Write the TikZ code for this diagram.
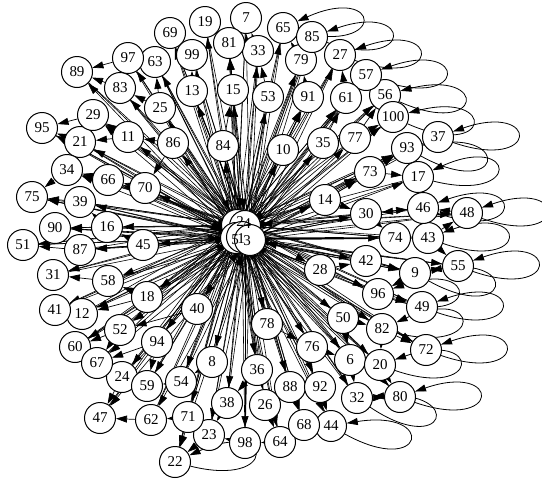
\documentclass[tikz,border=0pt]{standalone}
\usepackage{fontspec}
\setmainfont{Liberation Serif}
\usetikzlibrary{arrows.meta,backgrounds}

\tikzset{
  vtx/.style={circle, draw, fill=white, line width=1pt, minimum size=31pt, inner sep=0pt, font=\fontsize{15}{15}\selectfont},
  vlabel/.style={inner sep=0pt, font=\fontsize{15}{15}\selectfont},
  hub/.style={line width=0.6pt, -{Triangle[length=11pt,width=7pt]}},
  plainhub/.style={line width=0.6pt},
  link/.style={line width=0.7pt, -{Triangle[length=11pt,width=7pt]}},
  selfloop/.style={line width=0.8pt, -{Triangle[length=11pt,width=7pt]}}
}

\begin{document}
\begin{tikzpicture}[x=1pt,y=1pt]

\useasboundingbox (0,0) rectangle (542,-480);

% Outer vertices
\foreach \n/\x/\y in {
6/350/360, 7/246/18, 8/212/362, 9/415/273, 10/283/150, 11/128/137, 12/82/314,
13/192/91, 14/325/200, 15/233/90, 16/107/227, 17/418/177, 18/147/297, 19/205/22,
20/380/365, 21/80/142, 22/175/462, 23/209/435, 24/122/377, 25/160/108, 26/265/405,
27/340/55, 28/320/270, 29/93/115, 30/366/214, 31/53/275, 32/357/398, 33/258/51,
34/67/170, 35/323/143, 36/257/370, 37/438/137, 38/227/403, 39/80/202, 40/197/309,
41/55/310, 42/366/261, 43/428/238, 44/331/426, 45/143/245, 46/423/208, 47/100/418,
48/467/213, 49/422/307, 50/343/318, 51/23/245, 52/120/330, 53/268/97, 54/181/382,
55/458/266, 56/385/95, 57/366/75, 58/108/281, 59/147/386, 60/75/347, 61/346/98,
62/151/420, 63/155/62, 64/280/442, 65/283/28, 66/108/180, 67/97/363, 68/304/425,
69/170/33, 70/145/188, 71/188/417, 72/426/350, 73/370/172, 74/395/238, 75/32/197,
76/312/347, 77/355/138, 78/267/324, 79/301/60, 80/400/397, 81/229/43, 82/382/329,
83/120/88, 84/223/146, 85/312/37, 86/173/143, 87/80/250, 88/290/387, 89/77/72,
90/55/228, 91/308/97, 92/320/387, 93/407/148, 94/157/342, 95/42/128, 96/378/294,
97/128/58, 98/245/443, 99/192/55, 100/393/117} {
    \node[vtx] (v\n) at (\x,-\y) {\n};
}

% Centre vertices (labels drawn after all discs)
\foreach \n/\x/\y in {2/237/225, 4/245/226, 5/236/238, 1/242/237, 3/250/240} {
    \node[vtx] (v\n) at (\x,-\y) {};
}
\foreach \n/\x/\y in {2/240/222, 4/247/224, 5/235/240, 1/241/239, 3/247/241} {
    \node[vlabel] at (\x,-\y) {\n};
}

\begin{scope}[on background layer]

% Spokes from the centre
\foreach \n in {6,...,100} {
    \pgfmathtruncatemacro\c{mod(\n,5)+1}
    \pgfmathtruncatemacro\d{mod(\n+2,5)+1}
    \pgfmathtruncatemacro\e{mod(\n+4,5)+1}
    \draw[hub] (v\c) -- (v\n);
    \draw[plainhub] (v\d) -- (v\n);
    \draw[plainhub] (v\e) -- (v\n);
}
\foreach \n in {6,9,...,99} {
    \pgfmathtruncatemacro\c{mod(\n+3,5)+1}
    \draw[hub] (v\n) -- (v\c);
}

% Links between outer vertices
\foreach \a/\b in {
97/89, 83/89, 25/83, 25/63, 29/95, 21/95, 11/21, 11/29, 86/11, 13/99, 99/69,
15/81, 81/19, 33/7, 53/33, 79/65, 91/79, 61/27, 35/61, 77/56, 61/57, 77/100,
73/93, 14/73, 73/17, 46/30, 48/46, 17/46, 30/74, 74/43, 43/48, 28/42, 42/9,
9/55, 43/55, 9/96, 96/49, 50/82, 82/72, 82/20, 20/80, 6/32, 32/80, 76/6,
92/44, 88/68, 68/44, 26/64, 64/98, 98/23, 38/23, 23/22, 71/22, 71/62, 62/47,
24/47, 59/24, 54/59, 94/59, 94/67, 52/60, 67/60, 52/67, 12/41, 18/12, 58/31,
87/51, 16/90, 45/16, 45/87, 39/75, 34/75, 66/34, 70/66, 16/39, 21/34, 86/70,
18/58, 40/52, 78/76, 50/6, 8/54, 36/38, 84/15, 10/91, 35/77, 14/30} {
    \draw[link] (v\a) -- (v\b);
}

% Self loops, opening to the right
\foreach \n/\t in {
65/5, 85/0, 27/0, 57/0, 56/-5, 100/-5, 37/0, 93/-10, 17/5, 46/0, 48/0, 43/0,
55/0, 9/-10, 96/0, 49/0, 82/5, 72/0, 20/0, 80/0, 32/-15, 44/-10, 22/5} {
    \pgfmathtruncatemacro\a{mod(\t+20+360,360)}
    \pgfmathtruncatemacro\b{mod(\t-20+360,360)}
    \pgfmathtruncatemacro\p{\t+19}
    \pgfmathtruncatemacro\q{\t-19}
    \draw[selfloop] (v\n.\b) .. controls +(\q:92) and +(\p:92) .. (v\n.\a);
}

\end{scope}

\end{tikzpicture}
\end{document}
